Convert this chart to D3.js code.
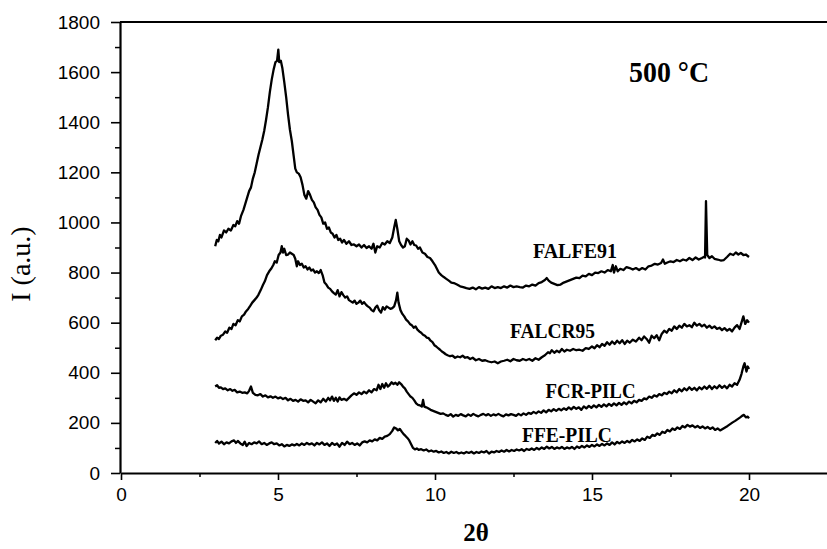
<!DOCTYPE html>
<html>
<head>
<meta charset="utf-8">
<script src="https://cdn.jsdelivr.net/npm/d3@7"></script>
<style>
  body { margin: 0; background: #fff; }
  .tick text { font-family: "Liberation Sans", Arial, sans-serif; font-size: 19px; fill: #000; }
  .serif { font-family: "Liberation Serif", "Times New Roman", serif; fill: #000; }
</style>
</head>
<body>
<svg id="chart" width="827" height="549"></svg>
<script>
// axis ticks
var xTicks = [0, 5, 10, 15, 20];
var xMinor = [2.5, 7.5, 12.5, 17.5];
var yTicks = [0, 200, 400, 600, 800, 1000, 1200, 1400, 1600, 1800];
var yMinor = [100, 300, 500, 700, 900, 1100, 1300, 1500, 1700];

var seriesNames = ["FALFE91", "FALCR95", "FCR-PILC", "FFE-PILC"];

// [2theta, intensity]
var falfe91 = [[3.00,905],[3.05,930],[3.10,925],[3.15,950],[3.20,940],[3.28,968],[3.35,960],[3.42,975],[3.50,968],[3.58,990],[3.64,985],[3.70,1005],[3.76,995],[3.82,1025],[3.90,1050],[3.96,1075],[4.02,1100],[4.08,1125],[4.14,1140],[4.20,1175],[4.26,1200],[4.32,1235],[4.38,1270],[4.44,1300],[4.50,1330],[4.56,1365],[4.62,1410],[4.68,1460],[4.74,1520],[4.80,1570],[4.86,1610],[4.92,1640],[4.97,1645],[5.01,1690],[5.04,1640],[5.09,1645],[5.14,1615],[5.20,1560],[5.26,1500],[5.32,1430],[5.38,1370],[5.44,1325],[5.50,1265],[5.55,1215],[5.60,1200],[5.66,1195],[5.72,1180],[5.78,1150],[5.84,1110],[5.90,1095],[5.96,1125],[6.02,1110],[6.08,1090],[6.14,1080],[6.20,1060],[6.26,1050],[6.32,1030],[6.38,1020],[6.44,995],[6.50,1000],[6.56,975],[6.62,980],[6.68,960],[6.74,955],[6.80,940],[6.86,950],[6.92,930],[6.98,935],[7.04,920],[7.10,930],[7.18,915],[7.26,925],[7.34,910],[7.42,912],[7.50,905],[7.58,912],[7.66,900],[7.74,910],[7.82,898],[7.90,905],[7.98,895],[8.04,915],[8.10,880],[8.16,905],[8.24,900],[8.32,918],[8.40,912],[8.48,925],[8.56,918],[8.64,940],[8.70,980],[8.75,1010],[8.80,975],[8.86,925],[8.92,910],[8.98,900],[9.04,905],[9.10,935],[9.16,928],[9.22,912],[9.28,925],[9.34,910],[9.40,908],[9.46,895],[9.52,900],[9.60,880],[9.68,875],[9.76,862],[9.84,858],[9.92,845],[10.00,830],[10.06,815],[10.12,800],[10.20,790],[10.28,782],[10.36,775],[10.44,768],[10.52,760],[10.60,758],[10.70,752],[10.80,745],[10.90,742],[11.00,738],[11.10,735],[11.20,740],[11.30,733],[11.40,742],[11.50,736],[11.60,740],[11.70,735],[11.80,745],[11.90,738],[12.00,742],[12.10,738],[12.20,745],[12.30,740],[12.40,748],[12.50,742],[12.60,745],[12.70,742],[12.80,740],[12.90,748],[13.00,745],[13.10,752],[13.20,748],[13.30,758],[13.40,762],[13.50,770],[13.56,778],[13.62,768],[13.70,760],[13.80,755],[13.90,750],[14.00,752],[14.10,760],[14.20,765],[14.30,770],[14.40,775],[14.50,780],[14.60,778],[14.70,788],[14.80,785],[14.90,795],[15.00,790],[15.10,800],[15.20,798],[15.30,805],[15.40,800],[15.50,810],[15.60,805],[15.66,830],[15.70,800],[15.76,825],[15.82,805],[15.90,815],[16.00,810],[16.10,822],[16.20,818],[16.30,812],[16.40,818],[16.50,810],[16.60,818],[16.70,812],[16.80,825],[16.90,828],[17.00,835],[17.10,832],[17.20,838],[17.26,852],[17.32,835],[17.40,840],[17.50,845],[17.60,842],[17.70,850],[17.80,845],[17.90,852],[18.00,848],[18.10,858],[18.20,850],[18.30,860],[18.40,852],[18.50,858],[18.56,862],[18.60,860],[18.63,1085],[18.67,870],[18.74,858],[18.82,865],[18.90,855],[19.00,852],[19.10,848],[19.20,850],[19.30,862],[19.40,875],[19.50,870],[19.58,880],[19.66,872],[19.74,878],[19.82,870],[19.90,872],[20.00,862]];

var falcr95 = [[3.00,530],[3.06,540],[3.12,535],[3.18,548],[3.25,552],[3.32,565],[3.38,560],[3.45,580],[3.52,575],[3.58,595],[3.65,590],[3.72,610],[3.78,605],[3.85,625],[3.92,632],[3.98,645],[4.05,655],[4.12,668],[4.18,680],[4.25,690],[4.32,700],[4.38,712],[4.45,730],[4.52,750],[4.58,765],[4.65,790],[4.72,805],[4.78,815],[4.85,830],[4.90,845],[4.96,840],[5.02,870],[5.08,880],[5.12,905],[5.16,880],[5.20,895],[5.26,870],[5.32,872],[5.38,880],[5.44,875],[5.50,870],[5.55,855],[5.60,825],[5.64,845],[5.70,830],[5.76,835],[5.82,820],[5.88,825],[5.94,812],[6.00,820],[6.06,808],[6.12,812],[6.18,800],[6.24,805],[6.30,798],[6.36,810],[6.42,790],[6.48,760],[6.54,752],[6.60,740],[6.66,735],[6.72,725],[6.78,718],[6.84,712],[6.90,730],[6.96,705],[7.02,722],[7.08,710],[7.14,700],[7.20,705],[7.26,690],[7.32,685],[7.38,680],[7.44,688],[7.50,675],[7.56,680],[7.62,688],[7.68,675],[7.74,682],[7.80,672],[7.86,665],[7.92,660],[7.98,650],[8.04,645],[8.10,660],[8.16,668],[8.22,650],[8.28,640],[8.34,662],[8.40,652],[8.46,665],[8.52,660],[8.58,655],[8.64,658],[8.70,665],[8.76,690],[8.80,720],[8.84,680],[8.90,650],[8.96,635],[9.02,625],[9.08,612],[9.14,605],[9.20,595],[9.26,590],[9.32,580],[9.38,585],[9.44,572],[9.50,565],[9.56,560],[9.62,552],[9.68,548],[9.74,540],[9.80,538],[9.86,528],[9.92,522],[9.98,510],[10.04,505],[10.10,498],[10.16,492],[10.22,485],[10.28,480],[10.34,474],[10.40,470],[10.48,466],[10.56,468],[10.64,460],[10.72,465],[10.80,462],[10.88,468],[10.96,460],[11.04,462],[11.12,455],[11.20,460],[11.30,450],[11.40,455],[11.50,448],[11.60,450],[11.70,445],[11.80,442],[11.90,445],[12.00,438],[12.10,445],[12.20,448],[12.30,452],[12.40,446],[12.50,455],[12.60,450],[12.70,448],[12.80,455],[12.90,450],[13.00,455],[13.10,448],[13.20,458],[13.30,452],[13.40,462],[13.50,470],[13.60,482],[13.66,478],[13.72,490],[13.80,480],[13.88,488],[13.96,482],[14.04,495],[14.12,485],[14.20,492],[14.30,488],[14.40,495],[14.50,490],[14.60,492],[14.70,488],[14.80,498],[14.90,495],[15.00,505],[15.08,498],[15.16,510],[15.24,502],[15.32,515],[15.40,508],[15.48,522],[15.56,512],[15.64,525],[15.72,515],[15.80,528],[15.88,518],[15.96,530],[16.04,515],[16.12,528],[16.20,520],[16.30,532],[16.40,525],[16.50,540],[16.58,530],[16.66,545],[16.74,535],[16.82,520],[16.90,548],[16.98,538],[17.06,550],[17.14,530],[17.22,555],[17.30,568],[17.38,560],[17.46,575],[17.54,568],[17.62,585],[17.70,575],[17.78,588],[17.86,580],[17.94,595],[18.02,585],[18.10,590],[18.18,582],[18.26,600],[18.34,588],[18.42,595],[18.50,585],[18.58,592],[18.66,580],[18.74,588],[18.82,578],[18.90,585],[18.98,575],[19.06,580],[19.14,570],[19.22,578],[19.30,568],[19.38,575],[19.46,565],[19.54,580],[19.62,590],[19.70,575],[19.76,600],[19.82,625],[19.88,595],[19.94,610],[20.00,600]];

var fcrPilc = [[3.00,345],[3.06,350],[3.12,340],[3.18,342],[3.25,335],[3.32,338],[3.40,330],[3.48,335],[3.55,328],[3.62,332],[3.70,322],[3.78,325],[3.86,320],[3.94,322],[4.02,318],[4.08,328],[4.14,345],[4.20,320],[4.28,312],[4.36,310],[4.44,315],[4.52,305],[4.60,310],[4.68,302],[4.76,306],[4.84,300],[4.92,305],[5.00,298],[5.08,302],[5.16,295],[5.24,300],[5.32,290],[5.40,296],[5.48,288],[5.56,292],[5.64,285],[5.72,294],[5.80,288],[5.88,290],[5.96,282],[6.04,292],[6.12,285],[6.20,278],[6.28,290],[6.36,282],[6.44,296],[6.52,285],[6.60,300],[6.66,290],[6.72,305],[6.78,288],[6.84,300],[6.90,285],[6.96,302],[7.02,292],[7.10,296],[7.18,290],[7.26,300],[7.34,310],[7.42,318],[7.50,312],[7.58,322],[7.66,315],[7.74,325],[7.82,318],[7.90,330],[7.98,322],[8.06,335],[8.14,330],[8.20,352],[8.26,335],[8.32,355],[8.38,340],[8.44,358],[8.50,345],[8.56,352],[8.62,362],[8.68,355],[8.74,360],[8.80,352],[8.86,362],[8.92,355],[8.98,345],[9.04,338],[9.10,325],[9.16,315],[9.22,305],[9.28,300],[9.34,290],[9.40,278],[9.46,272],[9.52,270],[9.58,265],[9.62,292],[9.66,265],[9.72,262],[9.78,258],[9.86,252],[9.94,248],[10.02,244],[10.10,240],[10.18,236],[10.26,238],[10.34,232],[10.42,228],[10.50,235],[10.58,225],[10.66,232],[10.74,228],[10.82,235],[10.90,230],[10.98,226],[11.06,234],[11.14,228],[11.22,236],[11.30,230],[11.38,226],[11.46,232],[11.54,236],[11.62,230],[11.70,235],[11.78,228],[11.86,234],[11.94,230],[12.02,236],[12.10,230],[12.18,226],[12.26,234],[12.34,230],[12.42,235],[12.50,232],[12.58,228],[12.66,236],[12.74,230],[12.82,238],[12.90,232],[12.98,240],[13.06,236],[13.14,244],[13.22,238],[13.30,246],[13.38,240],[13.46,250],[13.54,242],[13.62,252],[13.70,246],[13.78,255],[13.86,248],[13.94,256],[14.02,250],[14.10,258],[14.18,252],[14.26,262],[14.34,254],[14.42,264],[14.50,256],[14.58,262],[14.66,252],[14.74,266],[14.82,258],[14.90,268],[14.98,260],[15.06,270],[15.14,262],[15.22,272],[15.30,264],[15.38,274],[15.46,266],[15.54,276],[15.62,268],[15.70,278],[15.78,270],[15.86,280],[15.94,272],[16.02,282],[16.10,274],[16.18,285],[16.26,278],[16.34,288],[16.42,282],[16.50,292],[16.58,288],[16.66,298],[16.74,294],[16.82,305],[16.90,300],[16.98,310],[17.06,305],[17.14,315],[17.22,310],[17.30,320],[17.38,315],[17.46,325],[17.54,318],[17.62,330],[17.70,322],[17.78,335],[17.86,326],[17.94,338],[18.02,330],[18.10,342],[18.18,332],[18.26,340],[18.34,330],[18.42,342],[18.50,334],[18.58,345],[18.66,336],[18.74,348],[18.82,335],[18.90,346],[18.98,338],[19.06,350],[19.14,340],[19.22,348],[19.30,338],[19.38,352],[19.46,345],[19.54,358],[19.62,352],[19.70,372],[19.76,395],[19.82,425],[19.86,438],[19.92,405],[19.96,425],[20.00,415]];

var ffePilc = [[3.00,120],[3.06,128],[3.12,118],[3.20,125],[3.28,115],[3.36,122],[3.44,118],[3.52,126],[3.60,130],[3.66,120],[3.72,128],[3.80,118],[3.88,112],[3.94,125],[4.00,108],[4.08,120],[4.16,115],[4.24,122],[4.32,118],[4.40,126],[4.48,115],[4.56,120],[4.64,112],[4.72,118],[4.80,122],[4.88,115],[4.96,118],[5.04,110],[5.12,115],[5.20,106],[5.28,112],[5.36,108],[5.44,114],[5.52,110],[5.60,116],[5.68,110],[5.76,118],[5.84,112],[5.92,120],[6.00,114],[6.08,118],[6.16,110],[6.24,120],[6.32,114],[6.40,122],[6.48,112],[6.56,118],[6.64,108],[6.72,120],[6.80,112],[6.88,118],[6.96,105],[7.04,120],[7.12,112],[7.20,125],[7.28,115],[7.36,120],[7.44,112],[7.52,118],[7.60,110],[7.68,122],[7.76,126],[7.84,122],[7.92,130],[8.00,126],[8.08,134],[8.16,130],[8.24,140],[8.32,136],[8.40,145],[8.48,148],[8.56,155],[8.64,168],[8.70,182],[8.76,178],[8.82,170],[8.88,176],[8.94,165],[9.00,155],[9.06,148],[9.12,140],[9.18,130],[9.24,115],[9.30,100],[9.36,94],[9.42,98],[9.48,92],[9.56,95],[9.64,90],[9.72,94],[9.80,86],[9.88,90],[9.96,85],[10.04,88],[10.12,82],[10.20,86],[10.28,80],[10.36,84],[10.44,78],[10.52,85],[10.60,80],[10.68,84],[10.76,78],[10.84,82],[10.92,78],[11.00,84],[11.08,80],[11.16,85],[11.24,78],[11.32,84],[11.40,80],[11.48,86],[11.56,82],[11.64,88],[11.72,78],[11.80,85],[11.88,82],[11.96,88],[12.04,84],[12.12,90],[12.20,85],[12.28,92],[12.36,86],[12.44,92],[12.52,88],[12.60,94],[12.68,90],[12.76,95],[12.84,88],[12.92,96],[13.00,92],[13.08,98],[13.16,92],[13.24,100],[13.32,94],[13.40,102],[13.48,96],[13.56,105],[13.64,98],[13.72,104],[13.80,96],[13.88,102],[13.96,98],[14.04,104],[14.12,96],[14.20,102],[14.28,98],[14.36,104],[14.44,96],[14.52,106],[14.60,100],[14.68,108],[14.76,102],[14.84,110],[14.92,104],[15.00,112],[15.08,106],[15.16,114],[15.24,108],[15.32,116],[15.40,110],[15.48,118],[15.56,112],[15.64,122],[15.72,114],[15.80,124],[15.88,118],[15.96,126],[16.04,120],[16.12,128],[16.20,122],[16.28,132],[16.36,126],[16.44,134],[16.52,128],[16.60,138],[16.68,132],[16.76,145],[16.84,140],[16.92,152],[17.00,148],[17.08,158],[17.16,152],[17.24,165],[17.32,160],[17.40,172],[17.48,166],[17.56,178],[17.64,172],[17.72,182],[17.80,176],[17.88,188],[17.96,182],[18.04,192],[18.12,185],[18.20,190],[18.28,182],[18.36,188],[18.44,180],[18.52,186],[18.60,178],[18.68,184],[18.76,176],[18.84,182],[18.92,172],[19.00,178],[19.08,170],[19.16,176],[19.24,182],[19.32,188],[19.40,195],[19.48,202],[19.56,208],[19.64,215],[19.72,222],[19.78,228],[19.84,232],[19.90,222],[19.96,225],[20.00,218]];

var allSeries = [falfe91, falcr95, fcrPilc, ffePilc];

var svg = d3.select("#chart");
var x = d3.scaleLinear().domain([0, 22.5]).range([121, 827.5]);
var y = d3.scaleLinear().domain([0, 1800]).range([473, 22]);

// minor ticks first
svg.append("g").attr("transform", "translate(120,0)")
  .call(d3.axisLeft(y).tickValues(yMinor).tickSize(5).tickFormat("").tickSizeOuter(0))
  .call(function (g) { g.select(".domain").remove(); g.selectAll("line").attr("stroke-width", 1.5); });
svg.append("g").attr("transform", "translate(0,473)")
  .call(d3.axisBottom(x).tickValues(xMinor).tickSize(4).tickFormat("").tickSizeOuter(0))
  .call(function (g) { g.select(".domain").remove(); g.selectAll("line").attr("stroke-width", 1.5); });

var yAxis = svg.append("g").attr("transform", "translate(120,0)")
  .call(d3.axisLeft(y).tickValues(yTicks).tickFormat(d3.format("d")).tickSize(9).tickPadding(11).tickSizeOuter(0));
var xAxis = svg.append("g").attr("transform", "translate(0,473)")
  .call(d3.axisBottom(x).tickValues(xTicks).tickFormat(d3.format("d")).tickSize(7).tickPadding(8).tickSizeOuter(0));
[yAxis, xAxis].forEach(function (g) {
  g.select(".domain").attr("stroke-width", 2.2);
  g.selectAll(".tick line").attr("stroke-width", 1.6);
});

// top frame line
svg.append("line")
  .attr("x1", x(0) - 1).attr("x2", x(22.5))
  .attr("y1", y(1800)).attr("y2", y(1800))
  .attr("stroke", "#000").attr("stroke-width", 2.2);

var line = d3.line()
  .x(function (d) { return x(d[0]); })
  .y(function (d) { return y(d[1]); });

svg.append("g").selectAll("path")
  .data(allSeries)
  .join("path")
  .attr("d", line)
  .attr("fill", "none")
  .attr("stroke", "#000")
  .attr("stroke-width", 2.3)
  .attr("stroke-linejoin", "round");

// curve labels (data coords of left baseline point, width)
var labelPos = [[13.12, 858, 84], [12.39, 538, 85], [13.52, 299, 90], [12.77, 124, 90]];
svg.append("g").selectAll("text")
  .data(seriesNames)
  .join("text")
  .attr("class", "serif")
  .attr("x", function (d, i) { return x(labelPos[i][0]); })
  .attr("y", function (d, i) { return y(labelPos[i][1]); })
  .attr("textLength", function (d, i) { return labelPos[i][2]; })
  .attr("lengthAdjust", "spacingAndGlyphs")
  .style("font-size", "21px")
  .style("font-weight", "bold")
  .text(function (d) { return d; });

svg.append("text")
  .attr("class", "serif")
  .attr("x", x(16.18)).attr("y", y(1560))
  .attr("textLength", 80).attr("lengthAdjust", "spacingAndGlyphs")
  .style("font-size", "29px").style("font-weight", "bold")
  .text("500 °C");

svg.append("text")
  .attr("class", "serif")
  .attr("transform", "translate(30,264) rotate(-90)")
  .attr("text-anchor", "middle")
  .style("font-size", "28px")
  .text("I (a.u.)");

svg.append("text")
  .attr("class", "serif")
  .attr("x", 476).attr("y", 541)
  .attr("text-anchor", "middle")
  .style("font-size", "25px").style("font-weight", "bold")
  .text("2θ");
</script>
</body>
</html>
